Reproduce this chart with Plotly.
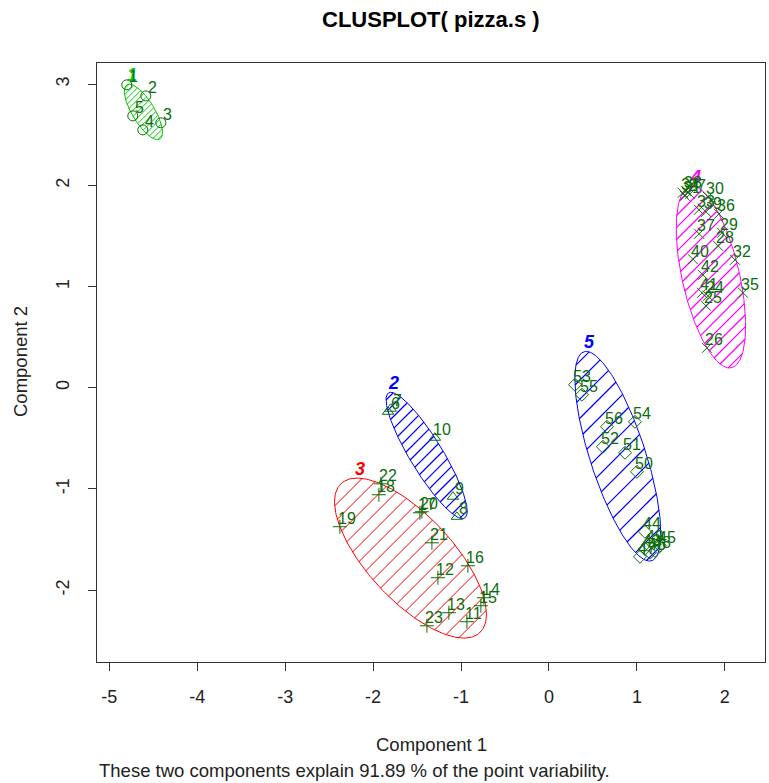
import numpy as np
import plotly.graph_objects as go

# ---------------- data ----------------
point_ids = [str(i) for i in range(1, 57)]
cluster = ([1] * 5 + [2] * 5 + [3] * 13 + [4] * 19 + [5] * 14)
comp1 = [
    -4.801, -4.585, -4.414, -4.619, -4.733,                      # 1-5
    -1.830, -1.800, -1.047, -1.092, -1.297,                      # 6-10
    -0.933, -1.263, -1.138, -0.740, -0.774, -0.922, -1.468,      # 11-17
    -1.934, -2.378, -1.445, -1.331, -1.911, -1.388,              # 18-23
    1.809, 1.786, 1.797, 1.604, 1.923, 1.968, 1.809, 1.547,      # 24-31
    2.116, 1.706, 1.521, 2.207, 1.934, 1.707, 1.559, 1.786,      # 32-39
    1.638, 1.741, 1.752,                                         # 40-42
    1.092, 1.092, 1.263, 1.149, 1.035, 1.206, 1.126,             # 43-49
    1.001, 0.865, 0.614, 0.296, 0.978, 0.375, 0.660,             # 50-56
]
comp2 = [
    2.994, 2.885, 2.619, 2.549, 2.688,
    -0.237, -0.207, -1.275, -1.077, -0.494,
    -2.312, -1.877, -2.223, -2.075, -2.154, -1.759, -1.235,
    -1.057, -1.373, -1.225, -1.532, -0.949, -2.352,
    0.909, 0.810, 0.395, 1.917, 1.403, 1.532, 1.887, 1.897,
    1.265, 1.759, 1.927, 0.939, 1.719, 1.522, 1.947, 1.739,
    1.270, 0.939, 1.116,
    -1.591, -1.423, -1.561, -1.630, -1.670, -1.611, -1.551,
    -0.830, -0.642, -0.583, 0.030, -0.336, -0.069, -0.385,
]
cluster_names = ["1", "2", "3", "4", "5"]
x_ticks = [-5, -4, -3, -2, -1, 0, 1, 2]
y_ticks = [-2, -1, 0, 1, 2, 3]
title_text = "CLUSPLOT( pizza.s )"
x_title = "Component 1"
y_title = "Component 2"
sub_text = "These two components explain 91.89 % of the point variability."

# ---------------- styles ----------------
cluster_colors = ["#00CD00", "#0000FF", "#FF0000", "#FF00FF", "#0000FF"]
symbols = ["circle-open", "triangle-up-open", "cross-thin-open", "x-thin-open", "diamond-open"]
hatch_px = [6, 12, 16, 12, 19]
hatch_w = [1, 1.25, 1, 1.25, 1.25]
pt_color = "#0B6E0B"
FONT = "Liberation Sans, Arial, sans-serif"

W, H = 769, 783
ML, MR, MT, MB = 97, 4, 63, 121
XR = [-5.14, 2.457]
YR = [-2.71, 3.21]
SX = (W - ML - MR) / (XR[1] - XR[0])
SY = (H - MT - MB) / (YR[1] - YR[0])

x_arr = np.array(comp1)
y_arr = np.array(comp2)
cl_arr = np.array(cluster)


def mvee(P, tol=1e-9, it=20000):
    """Minimum volume enclosing ellipse (Khachiyan) -> centre c, matrix A."""
    N, d = P.shape
    Q = np.vstack([P.T, np.ones(N)])
    u = np.ones(N) / N
    for _ in range(it):
        X = Q @ np.diag(u) @ Q.T
        M = np.einsum("ij,ji->i", Q.T @ np.linalg.inv(X), Q)
        j = int(np.argmax(M))
        mx = M[j]
        step = (mx - d - 1.0) / ((d + 1.0) * (mx - 1.0))
        nu = (1 - step) * u
        nu[j] += step
        if np.linalg.norm(nu - u) < tol:
            u = nu
            break
        u = nu
    c = P.T @ u
    A = np.linalg.inv(P.T @ np.diag(u) @ P - np.outer(c, c)) / d
    return c, A


fig = go.Figure()
annotations = []

for k in range(5):
    m = cl_arr == k + 1
    P = np.column_stack([x_arr[m], y_arr[m]])
    c, A = mvee(P)
    col = cluster_colors[k]
    # hatching at 45 degrees in pixel space (as R's polygon density shading)
    S_inv = np.diag([1 / SX, 1 / SY])
    B = S_inv @ A @ S_inv
    Binv = np.linalg.inv(B)
    d = np.array([1.0, 1.0]) / np.sqrt(2)
    nrm = np.array([1.0, -1.0]) / np.sqrt(2)
    ext = np.sqrt(nrm @ Binv @ nrm)
    step = hatch_px[k] / np.sqrt(2)
    off = -np.floor(ext / step) * step
    hx, hy = [], []
    while off <= ext:
        p0 = nrm * off
        a = d @ B @ d
        b = 2 * p0 @ B @ d
        cc = p0 @ B @ p0 - 1
        disc = b * b - 4 * a * cc
        if disc > 0:
            for t in ((-b - np.sqrt(disc)) / (2 * a), (-b + np.sqrt(disc)) / (2 * a)):
                q = p0 + t * d
                hx.append(float(c[0] + q[0] / SX))
                hy.append(float(c[1] + q[1] / SY))
            hx.append(None)
            hy.append(None)
        off += step
    fig.add_trace(go.Scatter(x=hx, y=hy, mode="lines",
                             line=dict(color=col, width=hatch_w[k]),
                             hoverinfo="skip", showlegend=False))
    # outline
    lam, V = np.linalg.eigh(A)
    th = np.linspace(0, 2 * np.pi, 241)
    circ = np.vstack([np.cos(th), np.sin(th)])
    E = (V @ np.diag(1 / np.sqrt(lam)) @ circ).T + c
    fig.add_trace(go.Scatter(x=[float(v) for v in E[:, 0]], y=[float(v) for v in E[:, 1]],
                             mode="lines", line=dict(color=col, width=1),
                             hoverinfo="skip", showlegend=False))
    # cluster label at the top of the ellipse
    Ainv = np.linalg.inv(A)
    ytop = c[1] + np.sqrt(Ainv[1, 1])
    xtop = c[0] + Ainv[0, 1] / np.sqrt(Ainv[1, 1])
    annotations.append(dict(x=float(xtop), y=float(ytop),
                            text="<b><i>%s</i></b>" % cluster_names[k],
                            showarrow=False, xanchor="center", yanchor="bottom",
                            yshift=-3, xshift=3,
                            font=dict(family=FONT, size=18, color=col)))

# points
for k in range(5):
    m = cl_arr == k + 1
    fig.add_trace(go.Scatter(x=x_arr[m], y=y_arr[m], mode="markers",
                             marker=dict(symbol=symbols[k], size=10, color=pt_color,
                                         line=dict(color=pt_color, width=1)),
                             showlegend=False, hoverinfo="skip"))

# point labels
for pid, xv, yv in zip(point_ids, comp1, comp2):
    annotations.append(dict(x=xv, y=yv, text=pid, showarrow=False,
                            xanchor="center", yanchor="middle", xshift=7, yshift=8,
                            font=dict(family=FONT, size=16, color=pt_color)))

# titles (positions given in page pixels, converted below)
page_notes = [
    dict(px=431, py=19, text="<b>" + title_text + "</b>", xanchor="center",
         size=22, angle=0, color="black"),
    dict(px=431, py=745, text=x_title, xanchor="center", size=18.5, angle=0, color="#222"),
    dict(px=97, py=770, text=sub_text, xanchor="left", size=18.5, angle=0, color="#222"),
    dict(px=20, py=362, text=y_title, xanchor="center", size=18.5, angle=-90, color="#222"),
]
for n in page_notes:
    annotations.append(dict(x=(n["px"] - ML) / (W - ML - MR),
                            y=((H - MB) - n["py"]) / (H - MT - MB),
                            xref="paper", yref="paper", text=n["text"], showarrow=False,
                            xanchor=n["xanchor"], yanchor="middle", textangle=n["angle"],
                            font=dict(family=FONT, size=n["size"], color=n["color"])))

axis_common = dict(showgrid=False, zeroline=False, showline=True, mirror=True,
                   linecolor="#333", linewidth=1, ticks="outside", ticklen=8,
                   tickcolor="#333", tickwidth=1,
                   tickfont=dict(family=FONT, size=18, color="#222"))

fig.update_layout(
    width=W, height=H,
    margin=dict(l=ML, r=MR, t=MT, b=MB, pad=0),
    paper_bgcolor="white", plot_bgcolor="white",
    xaxis=dict(range=XR, tickvals=x_ticks, ticktext=[str(v) for v in x_ticks],
               ticklabelstandoff=10, **axis_common),
    yaxis=dict(range=YR, tickvals=y_ticks, ticktext=[str(v) for v in y_ticks],
               tickangle=-90, ticklabelstandoff=12, **axis_common),
    annotations=annotations,
    showlegend=False,
)

fig.write_html("out.html")
